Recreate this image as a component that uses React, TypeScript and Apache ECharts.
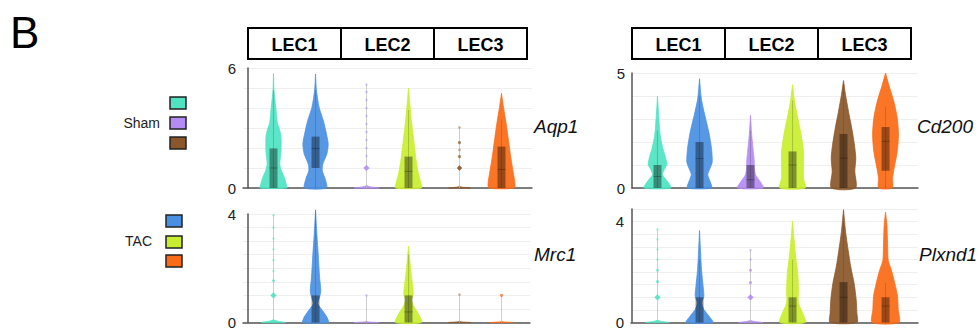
import React, { useEffect, useRef } from 'react';
import * as echarts from 'echarts';

// Violin order in every array: LEC1 Sham, LEC1 TAC, LEC2 Sham, LEC2 TAC, LEC3 Sham, LEC3 TAC
const categories = ['LEC1', 'LEC2', 'LEC3'];
const groups = ['Sham', 'TAC'];
const genes = ['Aqp1', 'Cd200', 'Mrc1', 'Plxnd1'];
const violinColors = ['#50e3c2', '#4a90e2', '#b48cf4', '#c9ee2f', '#8b572a', '#fb6a17'];

// y-axis extents and labelled ticks per gene
const axisMax = [6, 5, 4, 4.5];
const axisLabelMax = [6, 5, 4, 4];
const gridStep = [1, 1, 0.5, 0.5];

// ---- Aqp1: expression levels and relative density of each violin ----
const aqp1Y = [
  [0, 0.2, 0.53, 0.87, 1.2, 1.87, 2.53, 2.87, 3.28, 4.03, 4.87, 5.73],
  [0, 0.45, 0.87, 1.2, 1.7, 2.2, 2.7, 3.37, 4.03, 4.87, 5.7],
  [0, 0.06, 0.12],
  [0, 0.28, 0.7, 1.37, 2.2, 3.2, 4.2, 5.0],
  [0, 0.04, 0.08],
  [0, 0.28, 0.7, 1.53, 2.37, 3.2, 4.03, 4.73],
];
const aqp1D = [
  [0.99, 0.94, 0.8, 0.58, 0.47, 0.56, 0.56, 0.47, 0.28, 0.17, 0.04, 0],
  [0.81, 0.72, 0.5, 0.54, 0.84, 0.94, 0.81, 0.58, 0.27, 0.07, 0],
  [0.94, 0.25, 0],
  [0.96, 0.91, 0.74, 0.57, 0.42, 0.24, 0.1, 0],
  [0.8, 0.2, 0],
  [0.94, 0.99, 0.89, 0.69, 0.52, 0.35, 0.15, 0],
];
// [q1, median, q3, whisker top]
const aqp1Box = [
  [0, 1.0, 1.98, 4.9],
  [1.0, 1.97, 2.57, 4.9],
  [0, 0, 0, 5.17],
  [0, 0.83, 1.57, 3.9],
  [0, 0, 0, 3.03],
  [0, 0.93, 2.07, 3.45],
];
// outliers: [value, cell count]
const aqp1Out = [
  [],
  [],
  [[1.0, 9], [1.6, 1], [2.0, 1], [2.4, 1], [2.8, 1], [3.2, 1], [3.6, 1], [4.0, 1], [4.4, 1], [4.8, 1], [5.17, 1]],
  [],
  [[1.0, 6], [1.57, 3], [1.9, 1], [2.27, 3], [3.03, 1]],
  [],
];

// ---- Cd200 ----
const cd200Y = [
  [0, 0.29, 0.58, 0.8, 1.01, 1.3, 1.74, 2.32, 3.04, 3.99],
  [0, 0.29, 0.58, 0.87, 1.13, 1.71, 2.43, 3.17, 3.9, 4.75],
  [0, 0.29, 0.58, 0.94, 1.16, 1.59, 2.32, 3.16],
  [0, 0.43, 0.87, 1.59, 2.32, 3.04, 3.77, 4.49],
  [0, 0.72, 1.3, 1.88, 2.61, 3.33, 4.06, 4.67],
  [0, 0.43, 0.87, 1.59, 2.32, 3.04, 3.77, 4.49, 5.0],
];
const cd200D = [
  [0.99, 0.74, 0.37, 0.5, 0.69, 0.61, 0.39, 0.2, 0.1, 0],
  [0.89, 0.78, 0.61, 0.79, 0.94, 0.89, 0.69, 0.39, 0.13, 0],
  [0.95, 0.7, 0.37, 0.28, 0.28, 0.21, 0.09, 0],
  [0.94, 0.81, 0.81, 0.81, 0.64, 0.39, 0.15, 0],
  [0.89, 0.84, 0.91, 0.81, 0.61, 0.37, 0.15, 0],
  [0.5, 0.52, 0.64, 0.87, 0.96, 0.87, 0.61, 0.24, 0],
];
const cd200Box = [
  [0, 0.5, 1.0, 2.5],
  [0, 1.28, 2.0, 4.0],
  [0, 0.36, 1.0, 2.5],
  [0, 1.0, 1.59, 3.8],
  [0, 1.3, 2.35, 4.5],
  [0.75, 2.03, 2.65, 3.55],
];
const cd200Out = [[], [], [], [], [], []];

// ---- Mrc1 ----
const mrc1Y = [
  [0, 0.05, 0.1],
  [0, 0.2, 0.45, 0.69, 0.93, 1.18, 1.66, 2.51, 3.24, 4.15],
  [0, 0.02, 0.04],
  [0, 0.33, 0.57, 0.81, 1.05, 1.36, 1.78, 2.27, 2.81],
  [0, 0.02, 0.04],
  [0, 0.02, 0.04],
];
const mrc1D = [
  [0.89, 0.3, 0],
  [0.95, 0.84, 0.5, 0.17, 0.3, 0.39, 0.3, 0.2, 0.1, 0],
  [0.89, 0.2, 0],
  [0.96, 0.72, 0.42, 0.22, 0.35, 0.3, 0.2, 0.1, 0],
  [0.85, 0.2, 0],
  [0.85, 0.2, 0],
];
const mrc1Box = [
  [0, 0, 0, 3.96],
  [0, 0, 1.0, 4.15],
  [0, 0, 0, 1.0],
  [0, 0.39, 1.0, 2.5],
  [0, 0, 0, 1.03],
  [0, 0, 0, 1.0],
];
const mrc1Out = [
  [[1.0, 9], [1.54, 2], [1.9, 1], [2.3, 1], [2.7, 1], [3.1, 1], [3.5, 1], [3.96, 1]],
  [],
  [[1.0, 1]],
  [],
  [[1.03, 1]],
  [[1.0, 3]],
];

// ---- Plxnd1 ----
const plxnd1Y = [
  [0, 0.04, 0.09],
  [0, 0.26, 0.52, 0.78, 1.04, 1.42, 2.07, 2.85, 3.65],
  [0, 0.04, 0.08],
  [0, 0.39, 0.78, 1.29, 1.94, 2.59, 3.37, 4.01],
  [0, 0.39, 0.91, 1.55, 2.2, 2.85, 3.62, 4.47],
  [0, 0.52, 1.04, 1.55, 2.07, 2.46, 3.11, 3.88, 4.37],
];
const plxnd1D = [
  [0.89, 0.3, 0],
  [0.99, 0.69, 0.32, 0.17, 0.32, 0.27, 0.15, 0.07, 0],
  [0.89, 0.3, 0],
  [0.94, 0.74, 0.44, 0.44, 0.39, 0.24, 0.1, 0],
  [0.99, 0.99, 0.94, 0.79, 0.54, 0.35, 0.15, 0],
  [0.99, 0.94, 0.89, 0.69, 0.44, 0.2, 0.15, 0.1, 0],
];
const plxnd1Box = [
  [0, 0, 0, 3.69],
  [0, 0, 1.0, 2.5],
  [0, 0, 0, 2.87],
  [0, 0.65, 1.0, 2.5],
  [0, 1.0, 1.6, 4.0],
  [0, 0.65, 1.0, 1.58],
];
const plxnd1Out = [
  [[1.0, 9], [1.62, 3], [2.07, 2], [2.5, 1], [2.9, 1], [3.3, 1], [3.69, 1]],
  [],
  [[1.0, 9], [1.58, 3], [2.07, 2], [2.5, 1], [2.87, 1]],
  [],
  [],
  [],
];

const panelY = [aqp1Y, cd200Y, mrc1Y, plxnd1Y];
const panelD = [aqp1D, cd200D, mrc1D, plxnd1D];
const panelBox = [aqp1Box, cd200Box, mrc1Box, plxnd1Box];
const panelOut = [aqp1Out, cd200Out, mrc1Out, plxnd1Out];

// layout (pixels)
const grids = [
  { left: 243, top: 68, width: 289, height: 120, xmin: -0.054, xmax: 3.054 },
  { left: 632, top: 73, width: 286, height: 115, xmin: 0, xmax: 3.075 },
  { left: 243, top: 214, width: 287, height: 110, xmin: -0.054, xmax: 3.032 },
  { left: 631, top: 209, width: 287, height: 116, xmin: -0.011, xmax: 3.075 },
];
const headers = [
  { x: 248, y: 28, w: 279, h: 31 },
  { x: 632, y: 28, w: 279, h: 31 },
];
const geneLabelPos = [
  { x: 534, y: 126 },
  { x: 917, y: 126 },
  { x: 534, y: 254 },
  { x: 919, y: 254 },
];

const GROUP_OFFSET = 0.226;
const HALF_WIDTH = 0.145;
const BOX_HALF = 4;

function makeRenderItem(p: number) {
  return (params: any, api: any) => {
    const vi = api.value(0) as number;
    const cat = Math.floor(vi / 2);
    const grp = vi % 2;
    const xv = cat + 0.5 + (grp === 0 ? -GROUP_OFFSET : GROUP_OFFSET);
    const cx = api.coord([xv, 0])[0];
    const band = api.size([1, 0])[0];
    const W = band * HALF_WIDTH;
    const ys = panelY[p][vi];
    const ds = panelD[p][vi];
    const color = violinColors[vi];
    const yc = (v: number) => api.coord([xv, v])[1];
    const right = ys.map((v, k) => [cx + ds[k] * W, yc(v)]);
    const left = ys.map((v, k) => [cx - ds[k] * W, yc(v)]).reverse();
    const pts = right.concat(left);
    const [q1, med, q3, wTop] = panelBox[p][vi];
    const sparse = q3 === 0;
    const children: any[] = [];
    children.push({
      type: 'polygon',
      shape: { points: pts, smooth: 0.25 },
      style: { fill: color, stroke: color, lineWidth: 0.8, opacity: 0.93 },
    });
    children.push({
      type: 'line',
      shape: { x1: cx, y1: yc(0), x2: cx, y2: yc(wTop) },
      style: {
        stroke: sparse ? 'rgba(185,185,185,0.7)' : 'rgba(60,60,60,0.25)',
        lineWidth: 1,
      },
    });
    if (!sparse) {
      children.push({
        type: 'rect',
        shape: { x: cx - BOX_HALF, y: yc(q3), width: BOX_HALF * 2, height: yc(q1) - yc(q3) },
        style: { fill: 'rgba(0,0,0,0.38)' },
      });
      if (med > 0) {
        children.push({
          type: 'line',
          shape: { x1: cx - BOX_HALF, y1: yc(med), x2: cx + BOX_HALF, y2: yc(med) },
          style: { stroke: 'rgba(0,0,0,0.25)', lineWidth: 1 },
        });
      }
    }
    panelOut[p][vi].forEach(([v, n]: number[]) => {
      const y = yc(v);
      if (n >= 4) {
        const s = 1.2 + 1.5 * Math.sqrt(n);
        children.push({
          type: 'polygon',
          shape: { points: [[cx, y - s / 2], [cx + s / 2, y], [cx, y + s / 2], [cx - s / 2, y]] },
          style: { fill: color, stroke: color, lineWidth: 0.5, opacity: 0.9 },
        });
      } else {
        const r = 0.8 + 0.5 * Math.sqrt(n);
        children.push({
          type: 'circle',
          shape: { cx, cy: y, r },
          style: { fill: color, opacity: n > 1 ? 0.7 : 0.45 },
        });
      }
    });
    return { type: 'group', children };
  };
}

export default function App() {
  const ref = useRef<HTMLDivElement>(null);
  useEffect(() => {
    if (!ref.current) return;
    const chart = echarts.init(ref.current, null, { renderer: 'svg' });
    const font = 'Liberation Sans, Arial, Helvetica, sans-serif';

    const graphic: any[] = [];
    graphic.push({
      type: 'text', left: 10, top: 10,
      style: { text: 'B', fontSize: 44, fontFamily: font, fill: '#000' },
    });
    headers.forEach((h) => {
      graphic.push({
        type: 'rect', shape: { x: h.x, y: h.y, width: h.w, height: h.h },
        style: { fill: '#fff', stroke: '#000', lineWidth: 2 },
      });
      const seg = h.w / categories.length;
      categories.forEach((c, i) => {
        if (i > 0) {
          graphic.push({
            type: 'line', shape: { x1: h.x + seg * i, y1: h.y, x2: h.x + seg * i, y2: h.y + h.h },
            style: { stroke: '#000', lineWidth: 2 },
          });
        }
        graphic.push({
          type: 'text', x: h.x + seg * (i + 0.5), y: h.y + h.h / 2 + 1,
          style: { text: c, fontSize: 18, fontWeight: 'bold', fontFamily: font, fill: '#000', align: 'center', verticalAlign: 'middle' },
        });
      });
    });
    genes.forEach((g, i) => {
      graphic.push({
        type: 'text', x: geneLabelPos[i].x, y: geneLabelPos[i].y,
        style: { text: g, fontSize: 19, fontStyle: 'italic', fontFamily: font, fill: '#111', verticalAlign: 'middle' },
      });
    });
    // legend
    const legendBlocks = [
      { label: groups[0], tx: 160, ty: 123, bx: 170, bys: [97, 117, 137], idx: [0, 2, 4] },
      { label: groups[1], tx: 152, ty: 241, bx: 166, bys: [215, 236, 255], idx: [1, 3, 5] },
    ];
    legendBlocks.forEach((b) => {
      graphic.push({
        type: 'text', x: b.tx, y: b.ty,
        style: { text: b.label, fontSize: 14, fontFamily: font, fill: '#222', align: 'right', verticalAlign: 'middle' },
      });
      b.bys.forEach((by, k) => {
        graphic.push({
          type: 'rect', shape: { x: b.bx, y: by, width: 16, height: 12 },
          style: { fill: violinColors[b.idx[k]], stroke: '#222', lineWidth: 1.5 },
        });
      });
    });

    const option: any = {
      animation: false,
      textStyle: { fontFamily: font },
      grid: grids.map((g) => ({ left: g.left, top: g.top, width: g.width, height: g.height })),
      xAxis: grids.map((g, i) => ({
        type: 'value', gridIndex: i, min: g.xmin, max: g.xmax,
        axisLine: { show: true, onZero: false, lineStyle: { color: '#555', width: 1.5 } },
        axisTick: { show: false }, axisLabel: { show: false }, splitLine: { show: false },
      })),
      yAxis: grids.map((g, i) => ({
        type: 'value', gridIndex: i, min: 0, max: axisMax[i], interval: gridStep[i],
        axisLine: { show: true, lineStyle: { color: '#555', width: 1.5 } },
        axisTick: { show: false },
        axisLabel: {
          fontSize: 15, color: '#222', margin: 7,
          formatter: (v: number) => (v === 0 || v === axisLabelMax[i] ? String(v) : ''),
        },
        splitLine: { show: true, lineStyle: { color: '#efefef', width: 1 } },
      })),
      series: genes.map((g, i) => ({
        type: 'custom', name: g, xAxisIndex: i, yAxisIndex: i, clip: false,
        data: violinColors.map((_, k) => [k, 0]),
        renderItem: makeRenderItem(i),
      })),
      graphic,
    };
    chart.setOption(option);
    return () => chart.dispose();
  }, []);
  return <div ref={ref} style={{ position: 'absolute', left: 0, top: 0, width: 979, height: 330, background: '#fff' }} />;
}
